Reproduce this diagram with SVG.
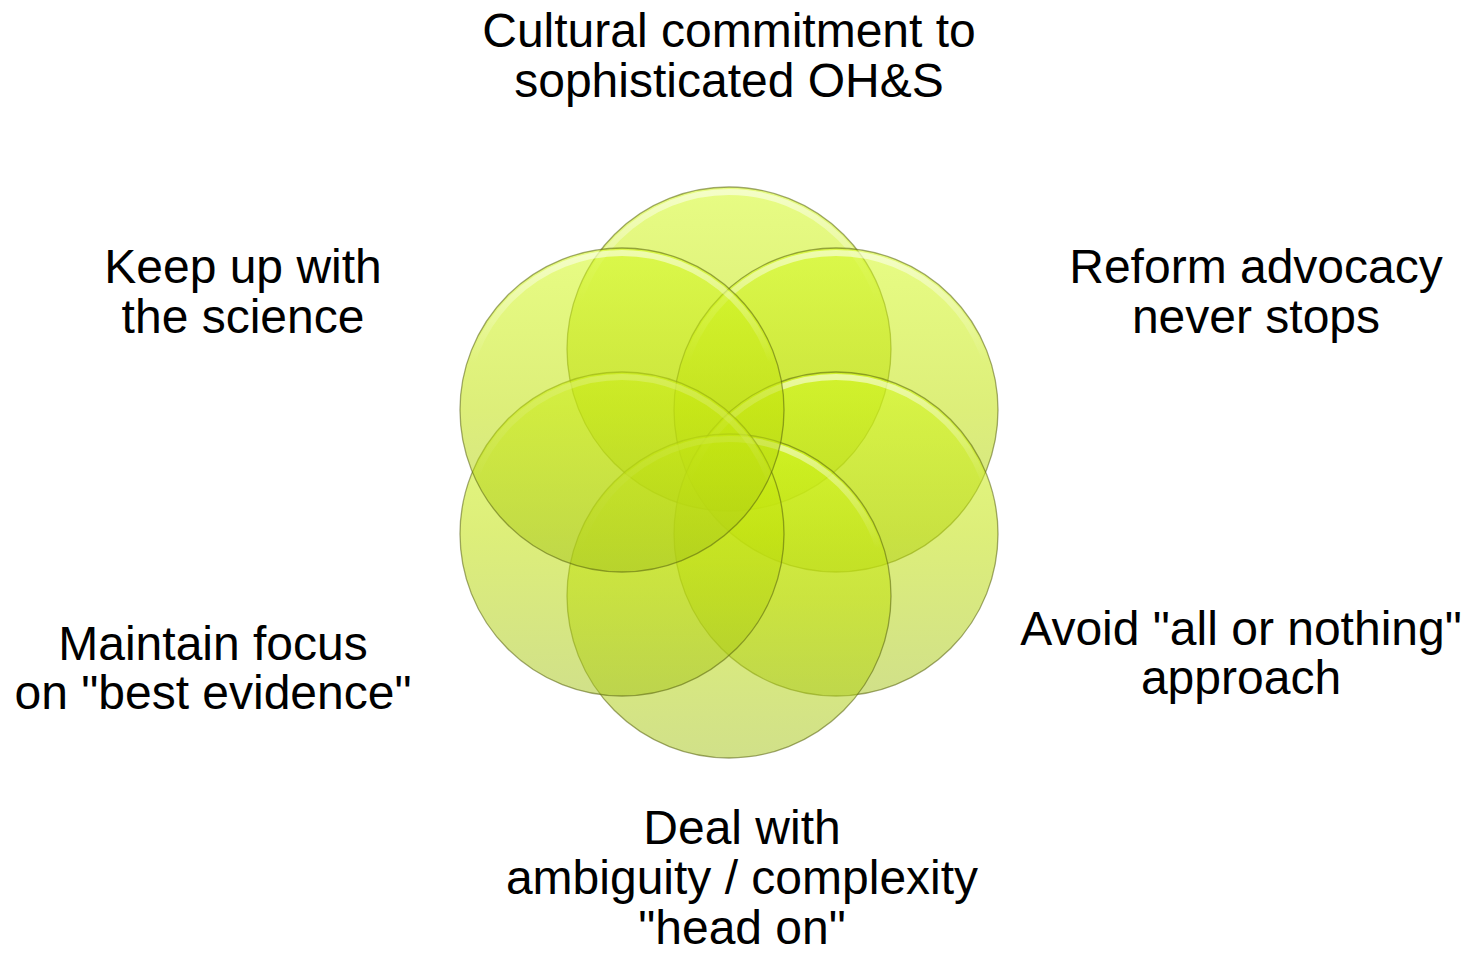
<svg xmlns="http://www.w3.org/2000/svg" width="1466" height="956" viewBox="0 0 1466 956">
<style>
.c{fill:url(#fillg);stroke:#56600c;stroke-opacity:.55;stroke-width:1.3}
.h{fill:none;stroke:url(#hlg);stroke-width:6}
.t{font-family:"Liberation Sans",Arial,sans-serif;font-size:48px;fill:#000;text-anchor:middle}
</style>
<defs>
<linearGradient id="fillg" x1="0" y1="0" x2="0" y2="1">
<stop offset="0" stop-color="#d4fa1e" stop-opacity=".55"/>
<stop offset="0.5" stop-color="#c0e008" stop-opacity=".54"/>
<stop offset="1" stop-color="#a6c41c" stop-opacity=".52"/>
</linearGradient>
<linearGradient id="hlg" x1="0" y1="0" x2="0" y2="1">
<stop offset="0" stop-color="#ffffff" stop-opacity=".55"/>
<stop offset="0.35" stop-color="#ffffff" stop-opacity="0"/>
<stop offset="1" stop-color="#ffffff" stop-opacity="0"/>
</linearGradient>
</defs>
<rect width="1466" height="956" fill="#fff"/>
<g id="node-top">
<circle class="c" cx="729" cy="349" r="162"/>
<circle class="h" cx="729" cy="349" r="157"/>
<text class="t" x="729" y="47">Cultural commitment to</text>
<text class="t" x="729" y="97">sophisticated OH&amp;S</text>
</g>
<g id="node-upper-right">
<circle class="c" cx="836" cy="410" r="162"/>
<circle class="h" cx="836" cy="410" r="157"/>
<text class="t" x="1256" y="283">Reform advocacy</text>
<text class="t" x="1256" y="333">never stops</text>
</g>
<g id="node-lower-right">
<circle class="c" cx="836" cy="534" r="162"/>
<circle class="h" cx="836" cy="534" r="157"/>
<text class="t" x="1241" y="645">Avoid "all or nothing"</text>
<text class="t" x="1241" y="694">approach</text>
</g>
<g id="node-bottom">
<circle class="c" cx="729" cy="596" r="162"/>
<circle class="h" cx="729" cy="596" r="157"/>
<text class="t" x="742" y="844">Deal with</text>
<text class="t" x="742" y="894">ambiguity / complexity</text>
<text class="t" x="742" y="944">"head on"</text>
</g>
<g id="node-lower-left">
<circle class="c" cx="622" cy="534" r="162"/>
<circle class="h" cx="622" cy="534" r="157"/>
<text class="t" x="213" y="660">Maintain focus</text>
<text class="t" x="213" y="709">on "best evidence"</text>
</g>
<g id="node-upper-left">
<circle class="c" cx="622" cy="410" r="162"/>
<circle class="h" cx="622" cy="410" r="157"/>
<text class="t" x="243" y="283">Keep up with</text>
<text class="t" x="243" y="333">the science</text>
</g>
<g id="connectors"></g>
</svg>
